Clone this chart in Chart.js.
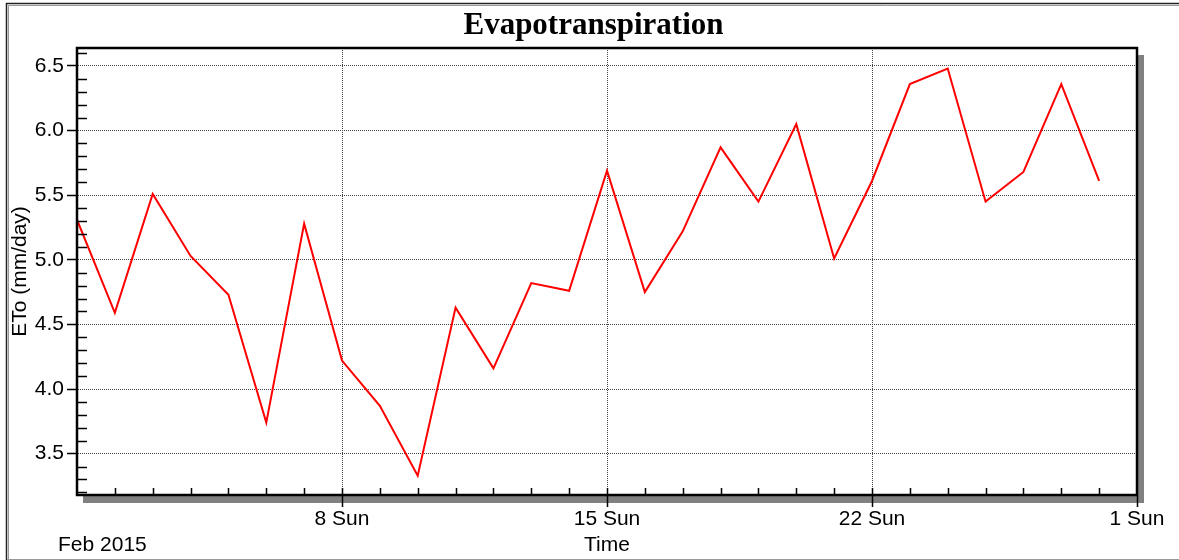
<!DOCTYPE html>
<html>
<head>
<meta charset="utf-8">
<script src="https://cdn.jsdelivr.net/npm/chart.js@4/dist/chart.umd.min.js"></script>
<style>
  html, body { margin: 0; padding: 0; background: #fff; }
  #wrap { width: 1179px; height: 560px; }
</style>
</head>
<body>
<div id="wrap"><canvas id="c" width="1179" height="560"></canvas></div>
<script>
// ---- data ----
const days = [1, 2, 3, 4, 5, 6, 7, 8, 9, 10, 11, 12, 13, 14, 15, 16, 17, 18, 19, 20, 21, 22, 23, 24, 25, 26, 27, 28];
const eto = [5.31, 4.59, 5.51, 5.03, 4.73, 3.74, 5.28, 4.22, 3.87, 3.33, 4.63, 4.16, 4.82, 4.76, 5.69,
             4.75, 5.22, 5.87, 5.45, 6.05, 5.01, 5.61, 6.36, 6.48, 5.45, 5.68, 6.36, 5.61];
const xTickValues = [8, 15, 22, 29];
const xTickLabels = ['8 Sun', '15 Sun', '22 Sun', '1 Sun'];
const yTickValues = [3.5, 4.0, 4.5, 5.0, 5.5, 6.0, 6.5];
const yMinorValues = [3.2, 3.3, 3.4, 3.6, 3.7, 3.8, 3.9, 4.1, 4.2, 4.3, 4.4, 4.6, 4.7, 4.8, 4.9,
                      5.1, 5.2, 5.3, 5.4, 5.6, 5.7, 5.8, 5.9, 6.1, 6.2, 6.3, 6.4, 6.6];
const xMinorValues = [2, 3, 4, 5, 6, 7, 8, 9, 10, 11, 12, 13, 14, 15, 16, 17, 18, 19, 20, 21, 22, 23, 24, 25, 26, 27, 28];
const titleText = 'Evapotranspiration';
const yTitle = 'ETo (mm/day)';
const xTitle = 'Time';
const periodLabel = 'Feb 2015';

const SANS = "'Liberation Sans', Arial, sans-serif";

const decor = {
  id: 'decor',
  beforeDraw(chart) {
    const ctx = chart.ctx, a = chart.chartArea;
    ctx.save();
    ctx.fillStyle = '#fff';
    ctx.fillRect(0, 0, chart.width, chart.height);
    // outer frame
    ctx.strokeStyle = '#222';
    ctx.lineWidth = 1.5;
    ctx.beginPath();
    ctx.moveTo(6.5, 560); ctx.lineTo(6.5, 3.5); ctx.lineTo(1179, 3.5);
    ctx.stroke();
    ctx.strokeStyle = '#999';
    ctx.lineWidth = 1;
    ctx.beginPath();
    ctx.moveTo(8.5, 559.5); ctx.lineTo(8.5, 5.5); ctx.lineTo(1179, 5.5);
    ctx.moveTo(7, 559.5); ctx.lineTo(1179, 559.5);
    ctx.stroke();
    // shadow
    ctx.fillStyle = '#808080';
    ctx.fillRect(a.left + 6, a.top + 7, a.right - a.left + 1, a.bottom - a.top + 1);
    ctx.fillStyle = '#fff';
    ctx.fillRect(a.left, a.top, a.right - a.left, a.bottom - a.top);
    ctx.restore();
  },
  afterDraw(chart) {
    const ctx = chart.ctx, a = chart.chartArea;
    const xs = chart.scales.x, ys = chart.scales.y;
    ctx.save();
    ctx.strokeStyle = '#000';
    ctx.lineWidth = 1.5;
    ctx.beginPath();
    yMinorValues.forEach(v => {
      const py = Math.round(ys.getPixelForValue(v)) + 0.5;
      ctx.moveTo(a.left, py); ctx.lineTo(a.left + 10, py);
    });
    xMinorValues.forEach(v => {
      const px = Math.round(xs.getPixelForValue(v)) + 0.5;
      ctx.moveTo(px, a.bottom); ctx.lineTo(px, a.bottom - 7);
    });
    ctx.stroke();
    // plot frame
    ctx.lineWidth = 2.5;
    ctx.strokeRect(a.left, a.top, a.right - a.left, a.bottom - a.top);
    // period label
    ctx.fillStyle = '#000';
    ctx.font = '21px ' + SANS;
    ctx.textAlign = 'left';
    ctx.textBaseline = 'middle';
    ctx.fillText(periodLabel, 58, 545);
    ctx.restore();
  }
};

new Chart(document.getElementById('c'), {
  type: 'line',
  data: {
    datasets: [{
      data: days.map((d, i) => ({ x: d, y: eto[i] })),
      borderColor: '#ff0000',
      borderWidth: 2,
      pointRadius: 0,
      tension: 0,
      fill: false
    }]
  },
  options: {
    responsive: false,
    animation: false,
    devicePixelRatio: 1,
    layout: { padding: { left: 8, right: 0, top: 0, bottom: 0 } },
    plugins: {
      legend: { display: false },
      tooltip: { enabled: false },
      title: {
        display: true,
        text: titleText,
        color: '#000',
        font: { family: "'Liberation Serif', 'Times New Roman', serif", size: 31, weight: 'bold' },
        padding: { top: 7, bottom: 3.8 }
      }
    },
    scales: {
      x: {
        type: 'linear',
        min: 1,
        max: 29,
        afterFit(s) { s.height = 65; },
        afterBuildTicks(s) { s.ticks = xTickValues.map(v => ({ value: v })); },
        ticks: {
          color: '#000',
          font: { family: SANS, size: 21 },
          padding: 0,
          maxRotation: 0,
          autoSkip: false,
          callback: (v) => { const i = xTickValues.indexOf(v); return i >= 0 ? xTickLabels[i] : ''; }
        },
        grid: {
          color: '#444',
          lineWidth: 1,
          drawTicks: true,
          tickLength: 12,
          tickColor: '#000',
          tickWidth: 1.5,
          tickBorderDash: []
        },
        border: { display: true, color: '#000', width: 2, dash: [1, 1] },
        title: {
          display: true,
          text: xTitle,
          color: '#000',
          font: { family: SANS, size: 21 },
          padding: { top: 0, bottom: 2.4 }
        }
      },
      y: {
        type: 'linear',
        min: 3.18,
        max: 6.639,
        afterFit(s) { s.width = 69; },
        afterBuildTicks(s) { s.ticks = yTickValues.map(v => ({ value: v })); },
        ticks: {
          color: '#000',
          font: { family: SANS, size: 21 },
          padding: 3,
          callback: (v) => Number(v).toFixed(1)
        },
        grid: {
          color: '#444',
          lineWidth: 1,
          drawTicks: true,
          tickLength: 10,
          tickColor: '#000',
          tickWidth: 1.5,
          tickBorderDash: []
        },
        border: { display: true, color: '#000', width: 2, dash: [1, 1] },
        title: {
          display: true,
          text: yTitle,
          color: '#000',
          font: { family: SANS, size: 21 },
          padding: { top: 0, bottom: 0 }
        }
      },
      yRight: {
        type: 'linear',
        position: 'right',
        display: true,
        min: 3.18,
        max: 6.639,
        afterFit(s) { s.width = 42; },
        ticks: { display: false },
        grid: { display: false, drawTicks: false },
        border: { display: false }
      }
    }
  },
  plugins: [decor]
});
</script>
</body>
</html>
